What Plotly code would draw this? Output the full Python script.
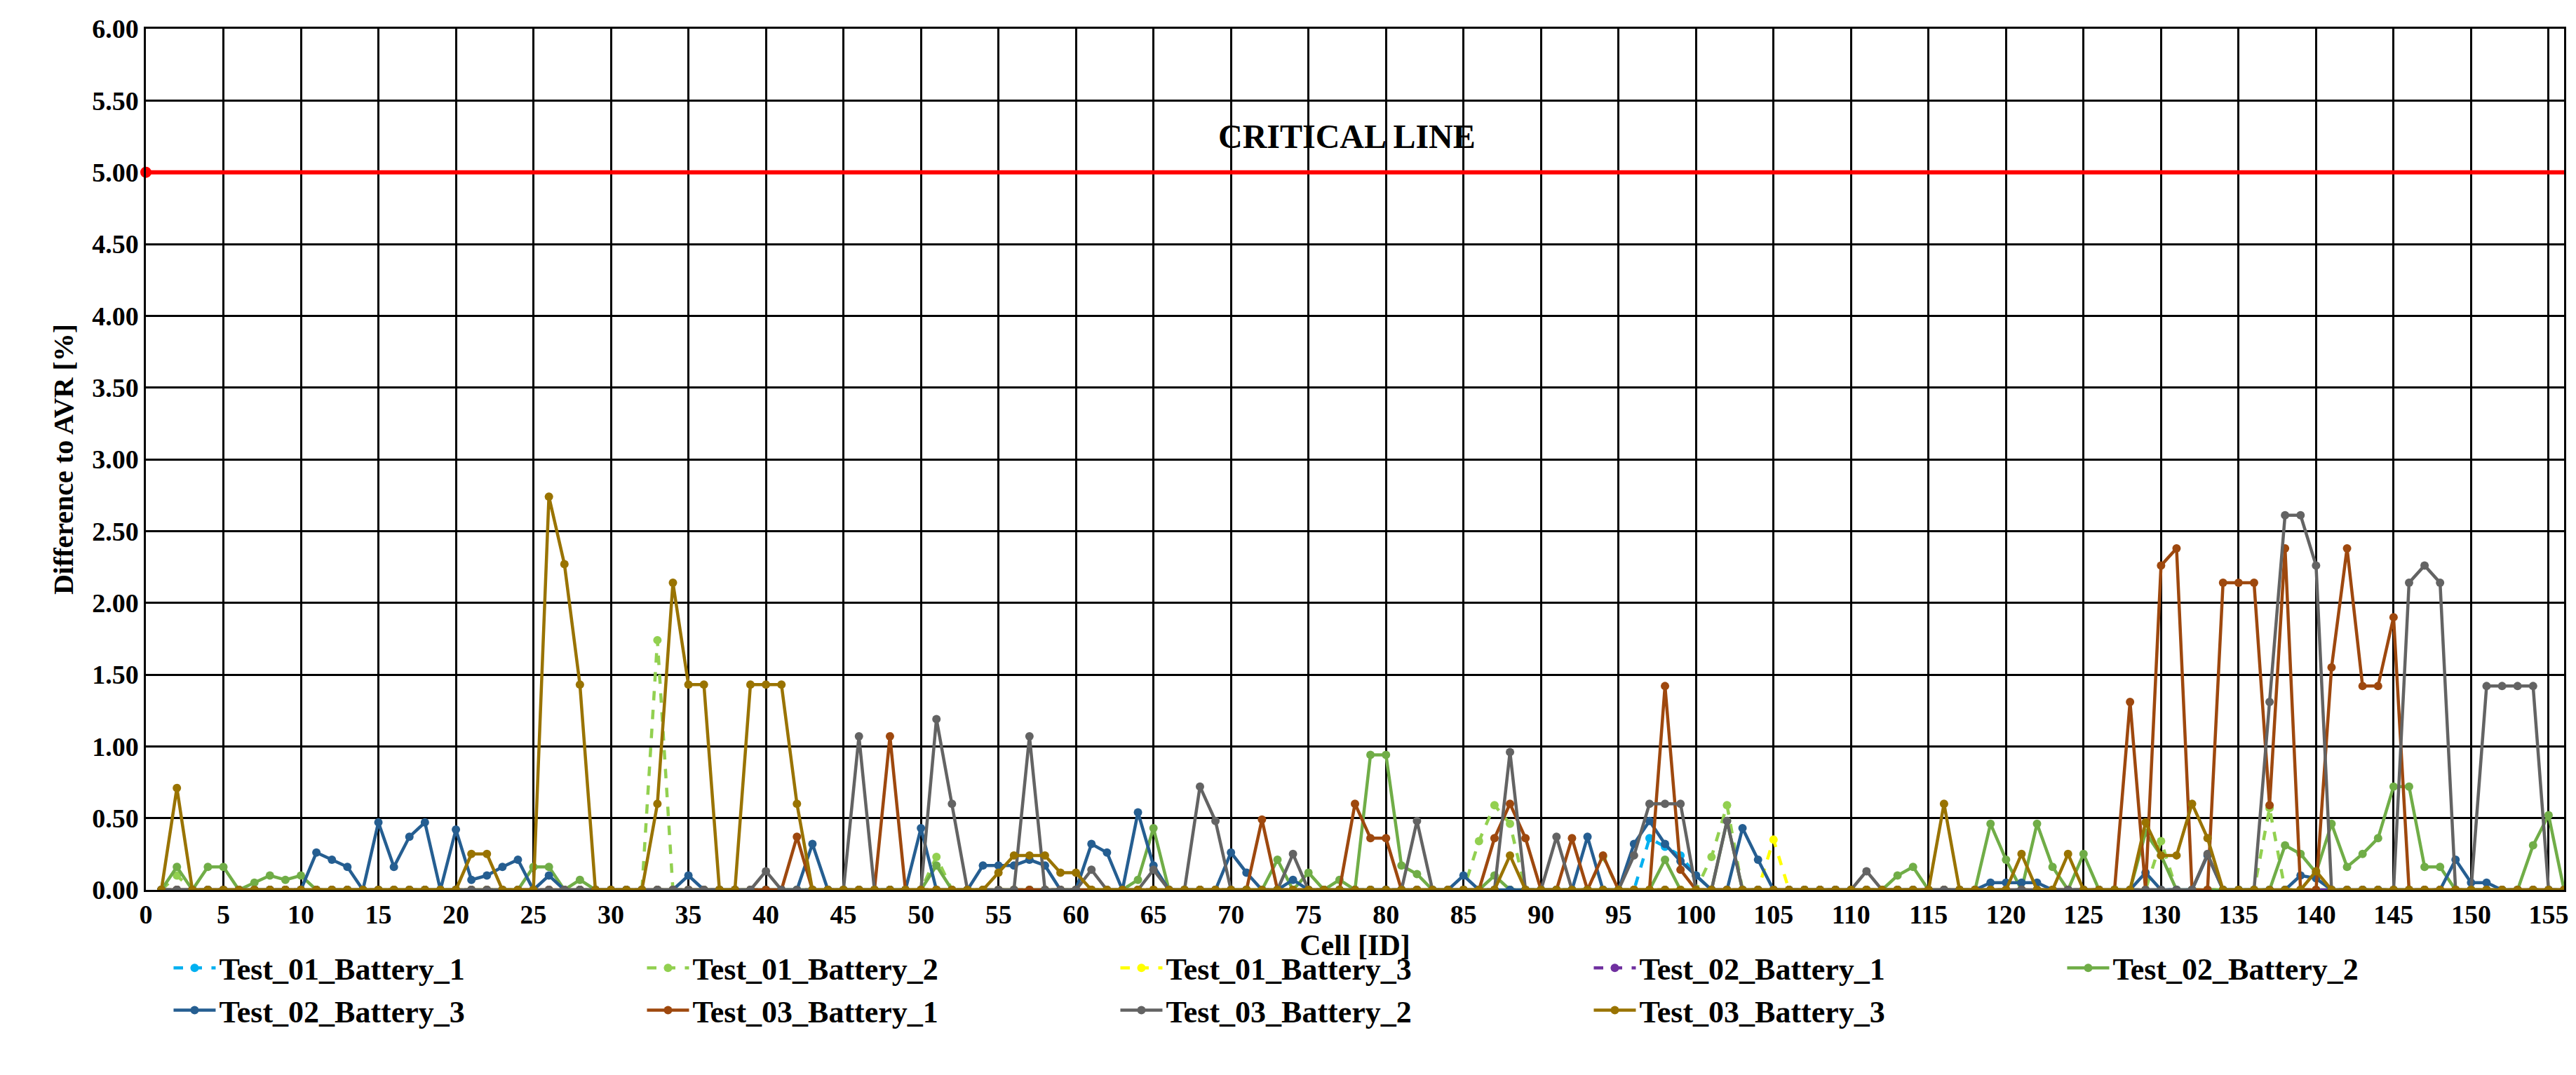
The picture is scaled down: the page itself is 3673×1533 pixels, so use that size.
import plotly.graph_objects as go

cells = list(range(1, 157))
x_ticks = list(range(0, 156, 5))
critical_value = 5.0

# nonzero values (cell: value), all other cells are 0
t01_b1 = {97: 0.36, 98: 0.30, 99: 0.24, 100: 0.10}
t01_b2 = {2: 0.10, 33: 1.74, 51: 0.23, 86: 0.34, 87: 0.59, 88: 0.46, 94: 0.23,
          101: 0.23, 102: 0.59, 130: 0.34, 137: 0.57}
t01_b3 = {105: 0.35}
t02_b1 = {}
t02_b2 = {2: 0.16, 4: 0.16, 5: 0.16, 7: 0.05, 8: 0.10, 9: 0.07, 10: 0.10, 25: 0.16,
          26: 0.16, 28: 0.07, 51: 0.17, 64: 0.07, 65: 0.43, 73: 0.21, 75: 0.12, 77: 0.07,
          79: 0.94, 80: 0.94, 81: 0.17, 82: 0.11, 87: 0.10, 98: 0.21, 102: 0.48,
          113: 0.10, 114: 0.16, 119: 0.46, 120: 0.21, 122: 0.46, 123: 0.16, 125: 0.25,
          129: 0.40, 130: 0.24, 138: 0.31, 139: 0.25, 140: 0.12, 141: 0.46, 142: 0.16,
          143: 0.25, 144: 0.36, 145: 0.72, 146: 0.72, 147: 0.16, 148: 0.16, 154: 0.31,
          155: 0.52}
t02_b3 = {11: 0.26, 12: 0.21, 13: 0.16, 15: 0.47, 16: 0.16, 17: 0.37, 18: 0.47, 20: 0.42,
          21: 0.07, 22: 0.10, 23: 0.16, 24: 0.21, 26: 0.10, 35: 0.10, 43: 0.32, 50: 0.43,
          54: 0.17, 55: 0.17, 56: 0.17, 57: 0.21, 58: 0.17, 61: 0.32, 62: 0.26, 64: 0.54,
          65: 0.17, 70: 0.26, 71: 0.12, 74: 0.07, 85: 0.10, 93: 0.37, 96: 0.32, 97: 0.48,
          98: 0.32, 99: 0.20, 100: 0.10, 103: 0.43, 104: 0.21, 119: 0.05, 120: 0.05,
          121: 0.05, 122: 0.05, 129: 0.12, 133: 0.24, 139: 0.10, 140: 0.08, 149: 0.21,
          150: 0.05, 151: 0.05}
t03_b1 = {42: 0.37, 48: 1.07, 72: 0.49, 78: 0.60, 79: 0.36, 80: 0.36, 87: 0.36, 88: 0.60,
          89: 0.36, 92: 0.36, 94: 0.24, 98: 1.42, 99: 0.14, 128: 1.31, 130: 2.26, 131: 2.38,
          134: 2.14, 135: 2.14, 136: 2.14, 137: 0.59, 138: 2.38, 141: 1.55, 142: 2.38,
          143: 1.42, 144: 1.42, 145: 1.90}
t03_b2 = {40: 0.13, 46: 1.07, 51: 1.19, 52: 0.60, 57: 1.07, 61: 0.14, 65: 0.14, 68: 0.72,
          69: 0.48, 74: 0.25, 82: 0.48, 88: 0.96, 91: 0.37, 96: 0.24, 97: 0.60, 98: 0.60,
          99: 0.60, 102: 0.48, 111: 0.13, 133: 0.25, 137: 1.31, 138: 2.61, 139: 2.61,
          140: 2.26, 146: 2.14, 147: 2.26, 148: 2.14, 151: 1.42, 152: 1.42, 153: 1.42,
          154: 1.42}
t03_b3 = {2: 0.71, 21: 0.25, 22: 0.25, 26: 2.74, 27: 2.27, 28: 1.43, 33: 0.60, 34: 2.14,
          35: 1.43, 36: 1.43, 39: 1.43, 40: 1.43, 41: 1.43, 42: 0.60, 55: 0.12, 56: 0.24,
          57: 0.24, 58: 0.24, 59: 0.12, 60: 0.12, 88: 0.24, 116: 0.60, 121: 0.25, 124: 0.25,
          129: 0.47, 130: 0.24, 131: 0.24, 132: 0.60, 133: 0.36, 140: 0.13}

series = [
    ("Test_01_Battery_1", t01_b1, "#00b0f0", "dash"),
    ("Test_01_Battery_2", t01_b2, "#92d050", "dash"),
    ("Test_01_Battery_3", t01_b3, "#ffff00", "dash"),
    ("Test_02_Battery_1", t02_b1, "#7030a0", "dash"),
    ("Test_02_Battery_2", t02_b2, "#70ad47", "solid"),
    ("Test_02_Battery_3", t02_b3, "#255e91", "solid"),
    ("Test_03_Battery_1", t03_b1, "#9e480e", "solid"),
    ("Test_03_Battery_2", t03_b2, "#636363", "solid"),
    ("Test_03_Battery_3", t03_b3, "#997300", "solid"),
]

FONT = "Liberation Serif"
fig = go.Figure()
for name, d, color, dash in series:
    fig.add_trace(go.Scatter(
        x=cells, y=[d.get(c, 0.0) for c in cells], name=name, mode="lines+markers",
        line=dict(color=color, width=4.5, dash=dash),
        marker=dict(color=color, size=12)))

fig.add_trace(go.Scatter(x=[0, 156], y=[critical_value, critical_value], mode="lines",
                         line=dict(color="#ff0000", width=6), showlegend=False))
fig.add_trace(go.Scatter(x=[0], y=[critical_value], mode="markers",
                         marker=dict(color="#ff0000", size=16), showlegend=False, cliponaxis=False))
fig.add_annotation(x=77.5, y=5.25, text="<b>CRITICAL LINE</b>", showarrow=False,
                   font=dict(family=FONT, size=48, color="black"))

fig.update_layout(
    width=3673, height=1533, paper_bgcolor="white", plot_bgcolor="white",
    margin=dict(l=200, r=25, t=28, b=272),
    font=dict(family=FONT, color="black"),
    legend=dict(orientation="h", x=0.01, xanchor="left", y=-0.062, yanchor="top",
                entrywidth=600, entrywidthmode="pixels", itemwidth=60,
                font=dict(family=FONT, size=44, weight="bold")),
    xaxis=dict(range=[0, 156], tickvals=x_ticks, showgrid=True, gridcolor="black", gridwidth=2.5,
               showline=True, linecolor="black", linewidth=2.5, mirror=True, zeroline=False,
               tickfont=dict(size=38, weight="bold"), ticks="",
               title=dict(text="Cell [ID]", font=dict(size=42, weight="bold"), standoff=0)),
    yaxis=dict(range=[0, 6], dtick=0.5, tickformat=".2f", showgrid=True, gridcolor="black",
               gridwidth=2.5, showline=True, linecolor="black", linewidth=2.5, mirror=True,
               zeroline=False, tickfont=dict(size=38, weight="bold"), ticks="",
               title=dict(text="Difference to AVR [%]", font=dict(size=40, weight="bold"),
                          standoff=15)),
)
fig.write_html("out.html")
